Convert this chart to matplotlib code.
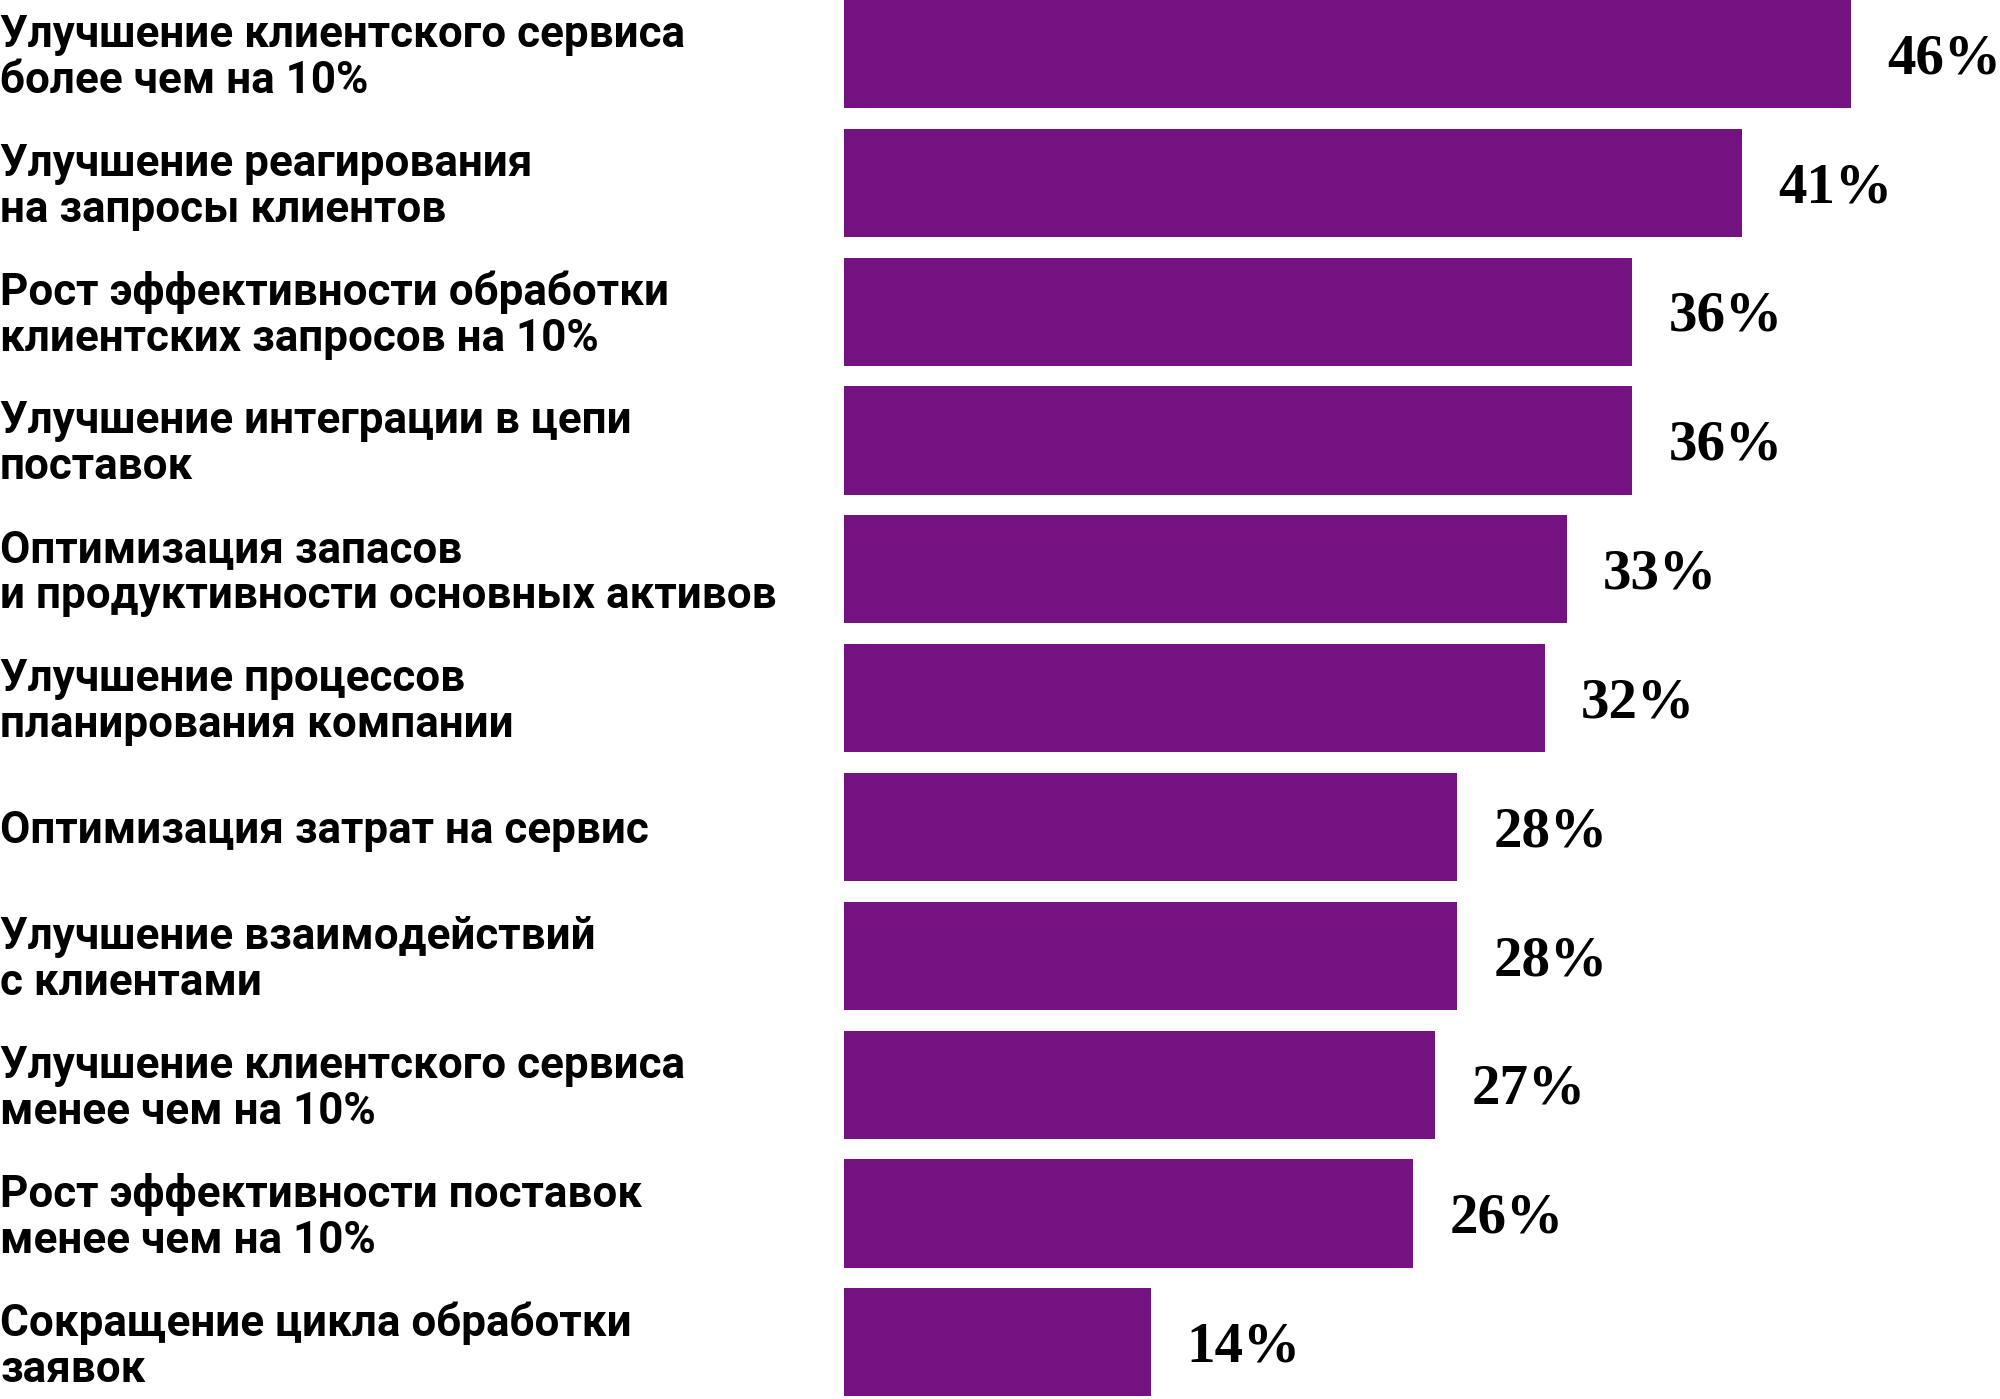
import matplotlib
matplotlib.use('Agg')
import matplotlib.pyplot as plt

categories = ['Улучшение клиентского сервиса\nболее чем на 10%',
              'Улучшение реагирования\nна запросы клиентов',
              'Рост эффективности обработки\nклиентских запросов на 10%',
              'Улучшение интеграции в цепи\nпоставок',
              'Оптимизация запасов\nи продуктивности основных активов',
              'Улучшение процессов\nпланирования компании',
              'Оптимизация затрат на сервис',
              'Улучшение взаимодействий\nс клиентами',
              'Улучшение клиентского сервиса\nменее чем на 10%',
              'Рост эффективности поставок\nменее чем на 10%',
              'Сокращение цикла обработки\nзаявок']
values = [46, 41, 36, 36, 33, 32, 28, 28, 27, 26, 14]
value_labels = ['46%', '41%', '36%', '36%', '33%', '32%', '28%', '28%', '27%', '26%', '14%']

purple = '#731280'

fig = plt.figure(figsize=(20, 13.99), dpi=100)
ax = fig.add_axes([0, 0, 1, 1])

y = list(range(len(values)))
ax.barh(y, values, height=0.84, color=purple)

# 0 sits at x=844px, ~21.9 px per percent
px = 21.9
ax.set_xlim(-844 / px, (2000 - 844) / px)
ax.set_ylim(10.44, -0.42)

for yi, v, lab in zip(y, values, value_labels):
    ax.text(v + 36 / px, yi + 0.04, lab, va='center', ha='left',
            fontsize=41, fontweight='bold', family='Liberation Serif', color='black')

x0 = ax.get_xlim()[0]
for yi, cat in zip(y, categories):
    ax.text(x0, yi + 0.03, cat, va='center', ha='left', fontsize=31.7, fontweight='bold',
            family='Roboto', color='black', linespacing=1.12)

ax.axis('off')
fig.savefig('out.png', dpi=100)
